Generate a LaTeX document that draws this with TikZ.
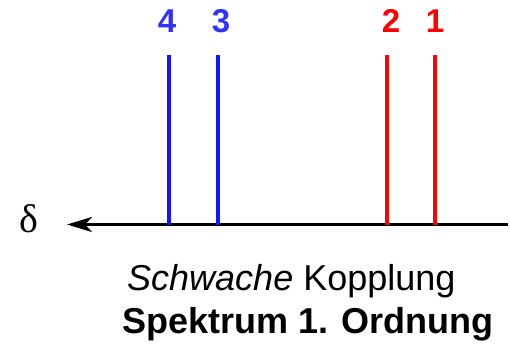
\documentclass[tikz,border=0pt]{standalone}
\usepackage{fontspec}
\setmainfont{Liberation Sans}
\newfontfamily\serifdelta{Liberation Serif}
\usetikzlibrary{arrows.meta}
\definecolor{peakblue}{RGB}{20,20,255}
\definecolor{labelblue}{RGB}{50,50,255}
\definecolor{peakred}{RGB}{255,0,0}
\begin{document}
\begin{tikzpicture}[x=1pt,y=-1pt,
  peak/.style={line width=3.2pt},
  peaklabel/.style={font=\fontsize{33}{33}\selectfont\bfseries, anchor=base, inner sep=0pt},
  axisline/.style={line width=3.4pt, -{Stealth[length=25pt,width=15pt,inset=7pt]}}]
  \useasboundingbox (0,0) rectangle (510,354);
  % chemical shift axis
  \coordinate (axR) at (508,224.5);
  \coordinate (axL) at (67,224.5);
  \draw[axisline] (axR) -- (axL);
  \node[inner sep=0pt] (delta) at (29,219) {\serifdelta\fontsize{40}{40}\selectfont δ};
  % peak positions on the axis and their tops
  \coordinate (b4) at (169,224.5); \coordinate (t4) at (169,55);
  \coordinate (b3) at (218,224.5); \coordinate (t3) at (218,55);
  \coordinate (b2) at (387,224.5); \coordinate (t2) at (387,55);
  \coordinate (b1) at (435,224.5); \coordinate (t1) at (435,55);
  \draw[peak, peakblue] (b4) -- (t4);
  \draw[peak, peakblue] (b3) -- (t3);
  \draw[peak, peakred] (b2) -- (t2);
  \draw[peak, peakred] (b1) -- (t1);
  % peak numbers
  \node[peaklabel, text=labelblue] (l4) at (167,32) {4};
  \node[peaklabel, text=labelblue] (l3) at (221,32) {3};
  \node[peaklabel, text=peakred] (l2) at (391,32) {2};
  \node[peaklabel, text=peakred] (l1) at (435,32) {1};
  % caption
  \node[anchor=base west, inner sep=0pt, font=\fontsize{36}{36}\selectfont] (cap1) at (127,290) {\itshape Schwache\upshape{} Kopplung};
  \node[anchor=base west, inner sep=0pt, font=\fontsize{36}{36}\selectfont\bfseries] (cap2) at (122,333) {Spektrum 1. Ordnung};
\end{tikzpicture}
\end{document}
